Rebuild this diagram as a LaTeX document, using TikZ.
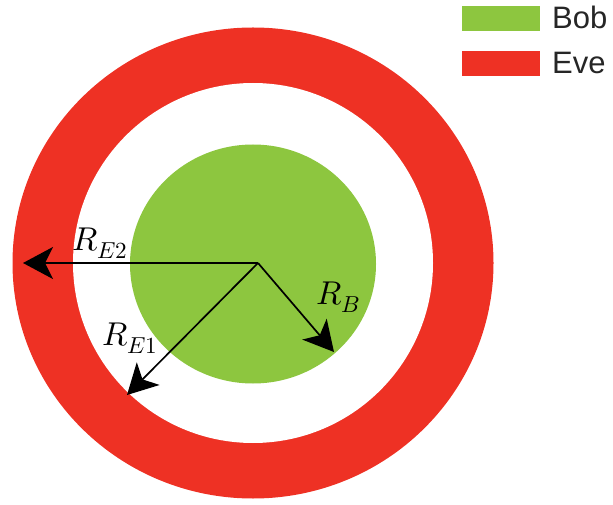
\documentclass[tikz,border=0pt]{standalone}
\usepackage{fontspec}
\setmainfont{Liberation Sans}
\usepackage{unicode-math}
\setmathfont{Latin Modern Math}
\usetikzlibrary{arrows.meta}
\definecolor{bobgreen}{RGB}{141,198,63}
\definecolor{evered}{RGB}{238,49,36}
\tikzset{
  radius arrow/.style={line width=1.7pt, -{Stealth[length=30pt,width=32pt,inset=8pt]}},
  lbl/.style={font=\fontsize{33}{38}\selectfont, inner sep=0pt},
  legendtext/.style={font=\fontsize{31}{36}\selectfont, anchor=base west, inner sep=0pt, text=black!85}
}
\begin{document}
\begin{tikzpicture}[x=1pt,y=1pt]
\useasboundingbox (0,0) rectangle (613,504);
% rings
\fill[evered] (253,241) ellipse [x radius=240.5, y radius=235.5];
\fill[white] (253,241) ellipse [x radius=180, y radius=180];
\fill[bobgreen] (253,240) ellipse [x radius=123, y radius=119.5];
% arrows
\coordinate (O) at (258,241);
\coordinate (tE2) at (23,241);
\coordinate (tE1) at (127,109);
\coordinate (tB) at (334,152);
\draw[radius arrow] (O) -- (tE2);
\draw[radius arrow] (O) -- (tE1);
\draw[radius arrow] (O) -- (tB);
\node[lbl] (lE2) at (100,261) {$R_{E2}$};
\node[lbl] (lE1) at (130,166) {$R_{E1}$};
\node[lbl] (lB) at (338,207) {$R_{B}$};
% legend
\fill[bobgreen] (462,473) rectangle (540,498);
\fill[evered] (462,428) rectangle (540,453);
\node[legendtext] (bob) at (552,475) {Bob};
\node[legendtext] (eve) at (552,430) {Eve};
\end{tikzpicture}
\end{document}
